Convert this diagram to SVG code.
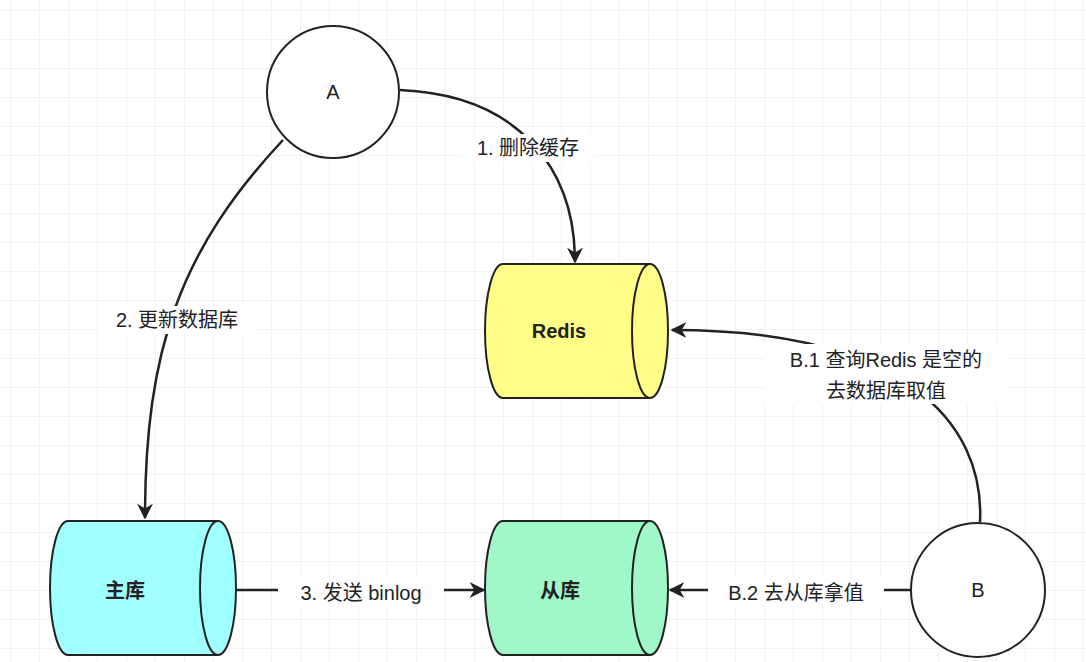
<svg xmlns="http://www.w3.org/2000/svg" width="1086" height="662" viewBox="0 0 1086 662">
<defs>
<pattern id="g" width="29" height="29" patternUnits="userSpaceOnUse" x="10" y="10"><path d="M29 0H0V29" fill="none" stroke="#e6e6e6" stroke-width="1"/></pattern>
<marker id="ah" viewBox="0 0 10 10" refX="9" refY="5" markerWidth="8" markerHeight="8" orient="auto" markerUnits="userSpaceOnUse"><path d="M0,0 L10,5 L0,10 L3,5 Z" fill="#222"/></marker>
<marker id="a" viewBox="0 0 10 10" refX="9" refY="5" markerWidth="16" markerHeight="16" orient="auto" markerUnits="userSpaceOnUse"><path d="M0,0 L10,5 L0,10 L3,5 Z" fill="#222"/></marker>
</defs>
<style>
text{font-family:"Liberation Sans","Noto Sans CJK SC",sans-serif;font-size:20px;fill:#222;text-anchor:middle}
.b{font-weight:bold}
.n{stroke:#222;stroke-width:2}
.c{fill:none;stroke:#222;stroke-width:2.5;marker-end:url(#a)}
.lb{fill:#fff}
</style>
<rect width="1086" height="662" fill="#fff"/>
<rect width="1086" height="662" fill="url(#g)"/>
<g id="connectors">
<path class="c" d="M400,90 C520,95 575,170 575,262"/>
<path class="c" d="M283,140 C180,250 145,350 145,518"/>
<path class="c" d="M236,590 L484,590"/>
<path class="c" d="M912,590 L670,590"/>
<path class="c" d="M980,522 C985,420 900,330 672,330"/>
<rect class="lb" x="462" y="134" width="132" height="28"/><text x="528" y="155">1. 删除缓存</text>
<rect class="lb" x="98" y="306" width="158" height="28"/><text x="177" y="327">2. 更新数据库</text>
<rect class="lb" x="278" y="578" width="166" height="28"/><text x="361" y="600">3. 发送 binlog</text>
<rect class="lb" x="708" y="578" width="176" height="28"/><text x="796" y="600">B.2 去从库拿值</text>
<rect class="lb" x="764" y="344" width="244" height="60"/><text x="886" y="367">B.1 查询Redis 是空的</text><text x="886" y="398">去数据库取值</text>
</g>
<g id="A"><circle class="n" cx="333" cy="92" r="66" fill="#fff"/><text x="333" y="99">A</text></g>
<g id="B"><circle class="n" cx="978" cy="590" r="67" fill="#fff"/><text x="978" y="597">B</text></g>
<g id="Redis"><path class="n" fill="#ffff88" d="M503,264 H650 A18,67 0 0 1 650,398 H503 A18,67 0 0 1 503,264 Z"/><path class="n" fill="none" d="M650,264 A18,67 0 0 0 650,398"/><text class="b" x="559" y="338">Redis</text></g>
<g id="zhuku"><path class="n" fill="#a0ffff" d="M68,521 H218 A18,67 0 0 1 218,655 H68 A18,67 0 0 1 68,521 Z"/><path class="n" fill="none" d="M218,521 A18,67 0 0 0 218,655"/><text class="b" x="125" y="598">主库</text></g>
<g id="congku"><path class="n" fill="#a0f8c8" d="M503,521 H650 A18,67 0 0 1 650,655 H503 A18,67 0 0 1 503,521 Z"/><path class="n" fill="none" d="M650,521 A18,67 0 0 0 650,655"/><text class="b" x="560" y="598">从库</text></g>
</svg>
